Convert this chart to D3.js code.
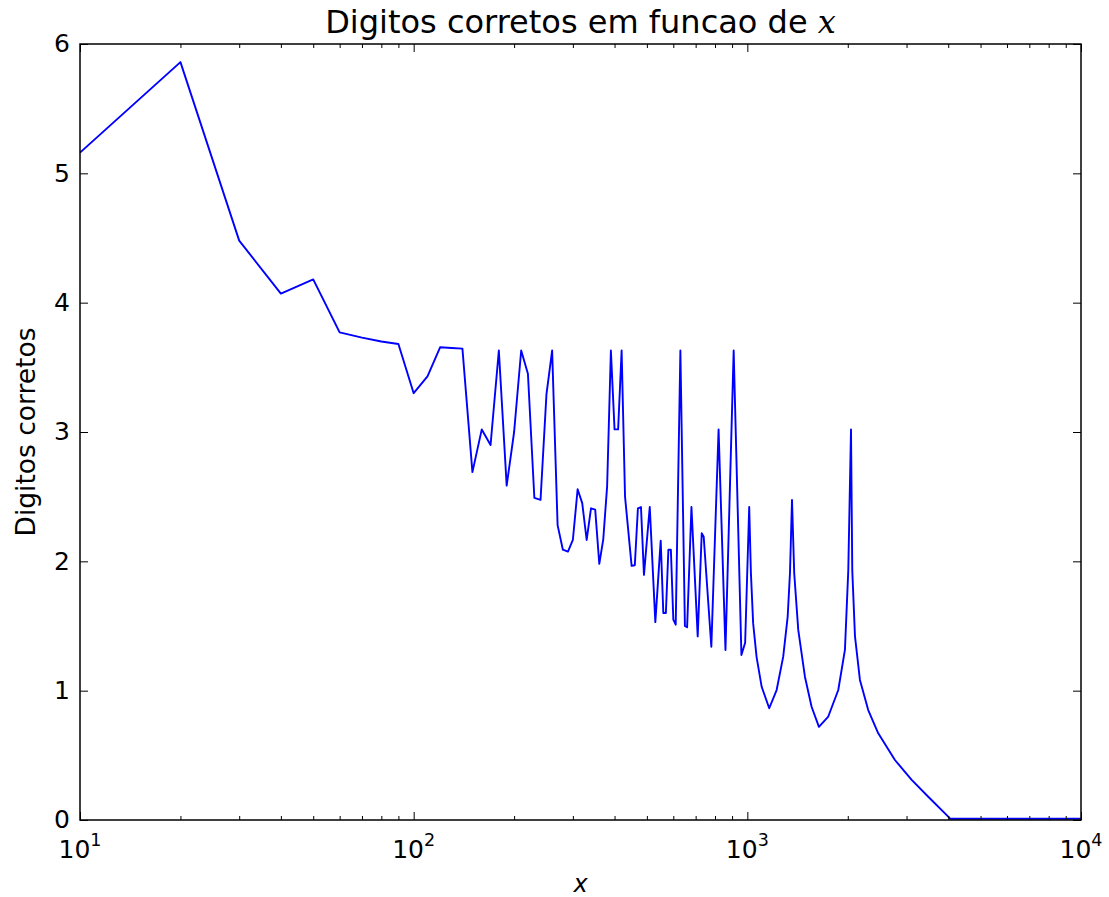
<!DOCTYPE html>
<html>
<head>
<meta charset="utf-8">
<script src="https://cdn.jsdelivr.net/npm/d3@7"></script>
<style>
  body { margin: 0; background: #fff; }
  svg { display: block; }
  text { font-family: "DejaVu Sans", sans-serif; fill: #000; }
</style>
</head>
<body>
<svg id="chart" width="1109" height="897"></svg>
<script>
// ---- data ----
const xValues = [10, 20, 30, 40, 50, 60, 70, 80, 90, 100,
  110, 120, 130, 140, 150, 160, 170, 180, 190, 200,
  210, 220, 230, 240, 250, 260, 270, 280, 290, 300,
  310, 320, 330, 340, 350, 360, 370, 380, 390, 400,
  410, 420, 430, 450, 460, 470, 480, 490, 510, 530,
  550, 560, 570, 580, 590, 600, 610, 630, 650, 660,
  680, 710, 730, 740, 780, 820, 860, 910, 960, 985,
  1013, 1025, 1041, 1066, 1104, 1163, 1224, 1281, 1321, 1342,
  1361, 1382, 1421, 1488, 1558, 1639, 1748, 1873, 1961, 2007,
  2045, 2063, 2102, 2175, 2303, 2468, 2769, 3108, 3485, 4000,
  4050, 5000, 6000, 7000, 8000, 9000, 10000];
const digits = [5.16, 5.86, 4.48, 4.07, 4.18, 3.77, 3.73, 3.70, 3.68, 3.30,
  3.43, 3.655, 3.65, 3.645, 2.69, 3.02, 2.90, 3.63, 2.585, 3.00,
  3.63, 3.45, 2.49, 2.475, 3.29, 3.63, 2.28, 2.09, 2.075, 2.165,
  2.557, 2.45, 2.165, 2.41, 2.40, 1.98, 2.17, 2.58, 3.63, 3.02,
  3.02, 3.63, 2.50, 1.965, 1.97, 2.41, 2.42, 1.895, 2.42, 1.53,
  2.16, 1.60, 1.60, 2.09, 2.09, 1.55, 1.51, 3.63, 1.50, 1.49,
  2.42, 1.42, 2.217, 2.19, 1.34, 3.02, 1.315, 3.63, 1.276, 1.37,
  2.42, 1.91, 1.52, 1.26, 1.03, 0.864, 1.005, 1.263, 1.572, 1.908,
  2.475, 1.908, 1.47, 1.108, 0.876, 0.72, 0.80, 1.005, 1.315, 1.93,
  3.02, 1.93, 1.42, 1.083, 0.85, 0.67, 0.464, 0.31, 0.18, 0.026,
  0.01, 0.01, 0.01, 0.01, 0.01, 0.01, 0.01];
const xMajorTicks = [10, 100, 1000, 10000];
const xMajorExponents = ["1", "2", "3", "4"];
const yTicks = [0, 1, 2, 3, 4, 5, 6];
const titleMain = "Digitos corretos em funcao de ";
const titleVar = "x";
const yLabelText = "Digitos corretos";
const xLabelText = "x";

(function () {
const mLeft = 80, mRight = 1081, mTop = 44, mBottom = 820;
const svg = d3.select("#chart");

const x = d3.scaleLog().domain([10, 10000]).range([mLeft, mRight]);
const y = d3.scaleLinear().domain([0, 6]).range([mBottom, mTop]);

const minorTicks = x.ticks().filter(v => !xMajorTicks.includes(v));
const majorLen = 8, minorLen = 4;

const line = d3.line().x((d, i) => x(xValues[i])).y(d => y(d));
svg.append("path")
  .datum(digits)
  .attr("d", line)
  .attr("fill", "none")
  .attr("stroke", "#0000ff")
  .attr("stroke-width", 1.9)
  .attr("stroke-linejoin", "round");

function styleAxis(g) {
  g.select(".domain").remove();
  g.selectAll(".tick line").attr("stroke", "#000").attr("stroke-width", 1);
}

const gb = svg.append("g").attr("transform", `translate(0,${mBottom})`)
  .call(d3.axisBottom(x).tickValues(xMajorTicks).tickSize(-majorLen).tickFormat(""));
styleAxis(gb);
const gbm = svg.append("g").attr("transform", `translate(0,${mBottom})`)
  .call(d3.axisBottom(x).tickValues(minorTicks).tickSize(-minorLen).tickFormat(""));
styleAxis(gbm);
const gt = svg.append("g").attr("transform", `translate(0,${mTop})`)
  .call(d3.axisTop(x).tickValues(xMajorTicks).tickSize(-majorLen).tickFormat(""));
styleAxis(gt);
const gtm = svg.append("g").attr("transform", `translate(0,${mTop})`)
  .call(d3.axisTop(x).tickValues(minorTicks).tickSize(-minorLen).tickFormat(""));
styleAxis(gtm);
const gl = svg.append("g").attr("transform", `translate(${mLeft},0)`)
  .call(d3.axisLeft(y).tickValues(yTicks).tickSize(-majorLen).tickFormat(""));
styleAxis(gl);
const gr = svg.append("g").attr("transform", `translate(${mRight},0)`)
  .call(d3.axisRight(y).tickValues(yTicks).tickSize(-majorLen).tickFormat(""));
styleAxis(gr);

svg.append("rect")
  .attr("x", mLeft).attr("y", mTop)
  .attr("width", mRight - mLeft).attr("height", mBottom - mTop)
  .attr("fill", "none").attr("stroke", "#000").attr("stroke-width", 1.5);

const fs = 25;
svg.append("g").selectAll("text").data(yTicks).join("text")
  .attr("x", mLeft - 10)
  .attr("y", d => y(d))
  .attr("dy", "0.33em")
  .attr("text-anchor", "end")
  .attr("font-size", fs)
  .text(d => d);

const xl = svg.append("g").selectAll("text").data(xMajorTicks).join("text")
  .attr("x", d => x(d))
  .attr("y", mBottom + 38)
  .attr("text-anchor", "middle")
  .attr("font-size", fs);
xl.append("tspan").text("10");
xl.append("tspan").attr("dy", -12).attr("font-size", fs * 0.7)
  .text((d, i) => xMajorExponents[i]);

const t = svg.append("text")
  .attr("x", (mLeft + mRight) / 2)
  .attr("y", 33)
  .attr("text-anchor", "middle")
  .attr("font-size", 32);
t.append("tspan").text(titleMain);
t.append("tspan").attr("font-family", "'DejaVu Serif', serif").attr("font-style", "italic").text(titleVar);

svg.append("text")
  .attr("transform", `translate(35,${(mTop + mBottom) / 2}) rotate(-90)`)
  .attr("text-anchor", "middle")
  .attr("font-size", 26.5)
  .text(yLabelText);

svg.append("text")
  .attr("x", (mLeft + mRight) / 2)
  .attr("y", 892)
  .attr("text-anchor", "middle")
  .attr("font-size", 24)
  .attr("font-family", "'DejaVu Serif', serif")
  .attr("font-style", "italic")
  .text(xLabelText);
})();
</script>
</body>
</html>
